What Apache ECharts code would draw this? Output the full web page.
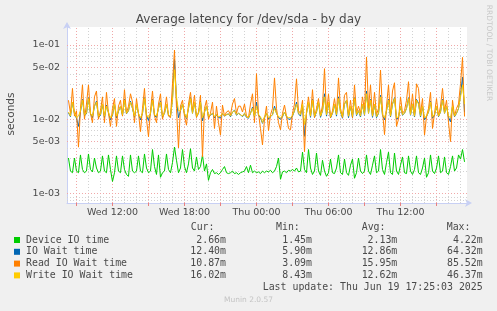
<!DOCTYPE html>
<html><head><meta charset="utf-8">
<script src="https://cdn.jsdelivr.net/npm/echarts@6/dist/echarts.min.js"></script>
<style>html,body{margin:0;padding:0;background:#f0f0f0;}#c{width:497px;height:311px;}</style>
</head><body><div id="c"></div>
<script>
// time axis in hours since Wed 00:00; samples every 10 minutes starting Wed 08:20
const startHour = 8 + 20 / 60;
const stepHour = 1 / 6;
const xMin = 8.21, xMax = 41.54;
// y axis in milliseconds (log)
const yMin = 0.7425, yMax = 174.8;

// values in milliseconds
const device = [
3.0,2.0,1.9,3.0,2.0,1.9,3.3,2.1,1.9,2.0,3.4,2.1,1.95,3.0,2.2,1.9,2.0,3.2,2.0,1.9,3.3,2.1,1.45,1.9,3.2,2.0,
1.9,3.2,2.1,1.8,1.7,3.3,2.0,1.9,2.0,3.2,2.0,1.9,3.4,2.2,1.9,2.0,3.9,2.3,1.8,3.3,1.65,1.9,2.0,3.4,2.1,1.9,2.6,4.22,2.8,1.9,
2.2,3.9,2.3,1.9,2.5,4.0,2.2,2.0,3.1,2.1,2.3,3.3,2.0,2.5,1.5,1.9,2.1,1.85,1.9,1.8,1.9,2.1,2.3,1.9,1.85,1.9,2.0,1.85,1.9,1.8,
1.9,1.95,2.0,2.3,1.9,2.4,1.9,2.0,1.9,1.95,1.85,2.0,1.9,2.0,1.95,2.05,1.9,2.0,2.3,3.0,1.55,1.95,2.0,1.9,2.05,2.0,2.1,2.0,2.2,1.95,
2.0,3.6,2.1,1.9,3.9,2.2,1.8,2.0,3.5,2.0,1.75,2.8,2.0,1.7,1.9,2.9,1.9,1.85,2.2,3.3,1.9,1.8,2.9,1.9,1.75,2.4,2.9,1.6,1.9,3.0,
2.0,1.85,2.0,3.3,2.0,1.8,2.4,3.2,1.9,2.0,3.9,2.1,1.8,2.6,3.6,1.9,1.8,3.5,2.0,1.8,2.4,3.1,1.9,1.85,3.2,2.0,1.8,2.1,3.2,1.9,
1.8,2.2,3.0,1.65,1.9,3.3,2.0,1.85,2.2,3.2,1.9,2.0,3.1,1.9,1.8,2.3,3.2,2.0,2.2,3.3,2.9,3.9,2.66
];
const ioWait = [
12.2,10.8,17,11.8,10.3,8,12.6,18.5,11.2,11.8,19.5,11.8,10.5,15,17.5,10.6,11.3,16,10.5,15.5,12.2,9.8,11.3,16,10.4,12.8,
15,11.2,18.5,11.8,13,17.5,14,10.6,16,11.8,9.8,12,19.5,11.2,9.6,12,18.5,11.2,10.6,14,17.5,10.7,12,16,11.2,10.8,19,64.32,18,10.5,
13,16,11.8,10.2,14,19.5,12,17,10.8,12,17.5,9.5,12.5,15,10.8,11.3,12,10.4,11.5,10.5,10.4,12,11,11.5,11.8,10.8,12.5,13.2,11.3,12,
11.5,10.8,12,10.6,10.3,12,14.5,10.7,17,11.3,10.4,8.8,10.6,12,10,10.8,11.5,15,12,10.5,10,10.8,12.5,10.8,10,10,11,13,17,11.8,
11,16,5.9,12,17,10.6,18.5,10.6,12.5,17,10.6,13,22,11,17,10.4,12,16,11,20,12.5,10.3,16,18,10.5,15,10.5,19.5,11.2,13,
10.7,16,11.3,24,12,18.5,10.6,16,10.5,12,21,11.3,9.8,13,18.5,10.7,16,19.5,10,10.5,15,11.3,12,14,19.5,11.3,16,10.7,18.5,16.5,
10.7,15,9.8,10.8,12.5,17.5,10.3,11.3,15,10.8,12.5,18.5,12,15,10.6,9.2,15,10.8,12,14,21,37,12.4
];
const readWait = [
18,12,26,11,13,4.2,14,29,10,16,29,12,9,20,24,10,13,20,9,23,12,8,14,19,8,15,
18,11,25,12,15,22,17,9,19,12,6.8,14,26,10,5.8,13,24,11,9,16,22,10,13,20,11,10.5,30,85.5,14,4.1,
15,18,11,8.3,16,23,13,21,10.5,12.5,21,3.1,14,18,10,12,17,7.5,15,9,6.1,15.5,11,12.5,13,11.5,16,19,12,15,
15,12.5,16,11,10.5,16,22,9,41,12,7.5,4.5,10,15,7,11.5,14,36,14,9,7.2,12,15.5,11,7.5,7.2,12,16,35,13,
12,18,3.65,13,20,11,25,10.5,14,19,11,15.5,48,12,22,10.5,13,19,12,36,14,10.5,21,23,11,18,10.5,29,12,15,
12,20,13,69,14,29,11,23,11.5,14,46,13,6.2,15,29,11,24,31,8,10,20,12,13,18,32,12,22,11,30,26,
12,19,6.1,11,14,23,7.5,12,19,11,15,26,13,18,9,5.0,18,11,14,16,30,68,10.87
];
const writeWait = [
12.5,11,17,12,10.5,11,13,18,11.5,12,19,12,11,15,17,11,11.5,16,11,15,12.5,10.5,11.5,16,11,13,
15,11.5,18,12,13,17,14,11,16,12,10.5,12,19,11.5,10.5,12,18,11.5,11,14,17,11,12,16,11.5,11,18,46.4,20,13,
13,16,12,10.5,14,19,12,17,11,12,17,10.5,12.5,15,11,11.5,12,11,11.5,10.8,11,12,11.2,11.5,11.8,11,12.5,13,11.5,12,
11.5,11,12,10.8,10.5,12,14,11,15,11.5,10.8,9.0,10.8,12,10.5,11,11.5,14,12,10.8,10.5,11,12.5,11,10.5,10.5,11.2,13,16,12,
11.5,16,8.5,12,17,11,18,11,12.5,17,11,13,20,11.5,17,10.8,12,16,11.5,19,12.5,10.8,16,18,11,15,11,19,11.5,13,
11,16,11.5,22,12,18,11,16,10.8,12,20,11.5,10.5,13,18,11,16,19,10.5,10.8,15,11.5,12,14,19,11.5,16,11,18,16,
11,15,10.5,11,12.5,17,10.8,11.5,15,11,12.5,18,12,15,11,10.5,15,11,12,14,20,29,16.02
];

const seriesNames = ['Device IO time', 'IO Wait time', 'Read IO Wait time', 'Write IO Wait time'];
const curVals = ['2.66m', '12.40m', '10.87m', '16.02m'];
const minVals = ['1.45m', '5.90m', '3.09m', '8.43m'];
const avgVals = ['2.13m', '12.86m', '15.95m', '12.62m'];
const maxVals = ['4.22m', '64.32m', '85.52m', '46.37m'];
const colHeaders = ['Cur:', 'Min:', 'Avg:', 'Max:'];

const xTickHours = [12, 18, 24, 30, 36];
const xTickLabels = ['Wed 12:00', 'Wed 18:00', 'Thu 00:00', 'Thu 06:00', 'Thu 12:00'];
const xMajorHours = [9, 12, 15, 18, 21, 24, 27, 30, 33, 36, 39];
const xMinorHours = [10, 11, 13, 14, 16, 17, 19, 20, 22, 23, 25, 26, 28, 29, 31, 32, 34, 35, 37, 38, 40, 41];
// y ticks in milliseconds
const yMajorTicks = [100, 50, 10, 5, 1];
const yMajorLabels = ['1e-01', '5e-02', '1e-02', '5e-03', '1e-03'];
const yMinorTicks = [90, 80, 70, 60, 40, 30, 20, 9, 8, 7, 6, 4, 3, 2, 0.9, 0.8];

const titleText = 'Average latency for /dev/sda - by day';
const yName = 'seconds';
const lastUpdate = 'Last update: Thu Jun 19 17:25:03 2025';
const footer = 'Munin 2.0.57';
const sideText = 'RRDTOOL / TOBI OETIKER';

// ---------- styles ----------
const colors = ['#00cc00', '#0066b3', '#ff8000', '#ffcc00'];
const textColor = '#4a4a4a';
const majorGrid = '#f0a8a8';
const minorGrid = '#d2d2d2';
const axisColor = '#c8d0f4';
const sans = 'DejaVu Sans';
const mono = 'DejaVu Sans Mono';

const toPts = arr => arr.map((v, i) => [startHour + i * stepHour, v]);
const allSeries = [device, ioWait, readWait, writeWait];

const gridLines = [];
xMinorHours.forEach(h => gridLines.push({ xAxis: h, lineStyle: { color: minorGrid, type: [1, 2], width: 1 }, label: { show: false } }));
yMinorTicks.forEach(v => gridLines.push({ yAxis: v, lineStyle: { color: minorGrid, type: [1, 2], width: 1 }, label: { show: false } }));
xMajorHours.forEach(h => gridLines.push({ xAxis: h, lineStyle: { color: majorGrid, type: [1, 2], width: 1 }, label: { show: false } }));
yMajorTicks.forEach((v, i) => gridLines.push({
  yAxis: v, lineStyle: { color: majorGrid, type: [1, 2], width: 1 },
  label: { show: true, position: 'start', formatter: yMajorLabels[i], distance: 7, color: textColor, fontSize: 9.5, fontFamily: sans }
}));

const series = [{
  type: 'line', data: [], z: 1, silent: true,
  markLine: { z: 1, silent: true, animation: false, symbol: 'none', data: gridLines }
}];
allSeries.forEach((arr, k) => series.push({
  name: seriesNames[k], type: 'line', data: toPts(arr), symbol: 'none', showSymbol: false,
  lineStyle: { color: colors[k], width: 1 }, itemStyle: { color: colors[k] }, z: 2 + k, animation: false
}));

// legend table
const graphic = [];
const rowY0 = 240, rowDY = 11.8;
const headerLeft = [190.7, 276, 361.7, 446.7];
const colRight = [226, 312, 397.3, 482.7];
const monoFont = '9.9px "' + mono + '"';
colHeaders.forEach((h, j) => graphic.push({ type: 'text', x: headerLeft[j], y: rowY0 - rowDY - 0.5, style: { text: h, fill: textColor, font: monoFont, textAlign: 'left', textVerticalAlign: 'middle' } }));
const cols = [curVals, minVals, avgVals, maxVals];
seriesNames.forEach((n, i) => {
  const y = rowY0 + i * rowDY;
  graphic.push({ type: 'rect', shape: { x: 14, y: y - 3, width: 6, height: 6 }, style: { fill: colors[i] } });
  graphic.push({ type: 'text', x: 26, y: y, style: { text: n, fill: textColor, font: monoFont, textAlign: 'left', textVerticalAlign: 'middle' } });
  cols.forEach((c, j) => graphic.push({ type: 'text', x: colRight[j], y: y, style: { text: c[i], fill: textColor, font: monoFont, textAlign: 'right', textVerticalAlign: 'middle' } }));
});
graphic.push({ type: 'text', x: colRight[3], y: rowY0 + 4 * rowDY, style: { text: lastUpdate, fill: textColor, font: monoFont, textAlign: 'right', textVerticalAlign: 'middle' } });
graphic.push({ type: 'text', x: 248.5, y: 300, style: { text: footer, fill: '#c4c4c4', font: '7.5px "' + sans + '"', textAlign: 'center', textVerticalAlign: 'middle' } });
graphic.push({ type: 'text', x: 488.5, y: 53, rotation: -Math.PI / 2, style: { text: sideText, fill: '#c8c8c8', font: '7.5px "' + sans + '"', textAlign: 'center', textVerticalAlign: 'middle' } });
graphic.push({ type: 'text', x: 11, y: 114, rotation: Math.PI / 2, style: { text: yName, fill: textColor, font: '10.5px "' + sans + '"', textAlign: 'center', textVerticalAlign: 'middle' } });

const chart = echarts.init(document.getElementById('c'), null, { renderer: 'canvas' });
chart.setOption({
  backgroundColor: '#f0f0f0',
  animation: false,
  title: { text: titleText, left: 'center', top: 9, textStyle: { fontSize: 12, fontWeight: 'normal', color: textColor, fontFamily: sans } },
  grid: { left: 67, top: 27, width: 400, height: 176, show: true, backgroundColor: '#ffffff', borderWidth: 0 },
  xAxis: {
    type: 'value', min: xMin, max: xMax,
    axisLine: { show: true, onZero: false, lineStyle: { color: axisColor, width: 1 }, symbol: ['none', 'arrow'], symbolSize: [6, 7], symbolOffset: [0, 5] },
    axisTick: { show: true, customValues: xMajorHours, length: 3, lineStyle: { color: '#e88080' } },
    axisLabel: { customValues: xTickHours, formatter: v => xTickLabels[xTickHours.indexOf(v)], margin: 5, color: textColor, fontSize: 9.5, fontFamily: sans },
    splitLine: { show: false }
  },
  yAxis: {
    type: 'log', logBase: 10, min: yMin, max: yMax,
    axisLine: { show: true, lineStyle: { color: axisColor, width: 1 }, symbol: ['none', 'arrow'], symbolSize: [6, 7], symbolOffset: [0, 5] },
    axisTick: { show: false }, axisLabel: { show: false }, splitLine: { show: false }
  },
  graphic: graphic,
  series: series
});
</script></body></html>
